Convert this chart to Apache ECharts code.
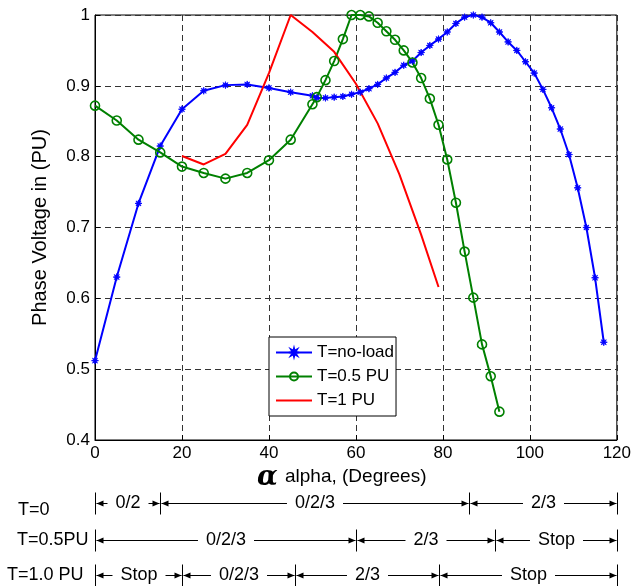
<!DOCTYPE html>
<html><head><meta charset="utf-8">
<script src="https://cdn.jsdelivr.net/npm/echarts@6/dist/echarts.min.js"></script>
<style>html,body{margin:0;padding:0;background:#fff}#c{width:634px;height:586px}</style>
</head><body><div id="c"></div>
<script>
// ---- data ----
const alphaNoLoad = [0,5,10,15,20,25,30,35,40,45,50,51,53,55,57,59,61,63,65,67,69,71,73,75,77,79,81,83,85,87,89,91,93,95,97,99,101,103,105,107,109,111,113,115,117];
const voltNoLoad  = [0.512,0.630,0.734,0.815,0.867,0.893,0.901,0.902,0.897,0.891,0.886,0.883,0.883,0.884,0.885,0.888,0.891,0.896,0.902,0.911,0.919,0.929,0.935,0.947,0.957,0.966,0.976,0.988,0.997,1.000,0.997,0.989,0.976,0.962,0.950,0.934,0.918,0.895,0.869,0.839,0.803,0.756,0.700,0.629,0.538];
const alphaHalf = [0,5,10,15,20,25,30,35,40,45,50,51,53,55,57,59,61,63,65,67,69,71,73,75,77,79,81,83,85,87,89,91,93];
const voltHalf  = [0.872,0.851,0.824,0.806,0.786,0.777,0.769,0.777,0.795,0.824,0.874,0.884,0.908,0.935,0.966,1.000,1.000,0.998,0.989,0.977,0.965,0.950,0.933,0.911,0.882,0.845,0.796,0.735,0.666,0.601,0.535,0.490,0.440];
const alphaFull = [20,25,30,35,40,45,50,55,60,65,70,75,79];
const voltFull  = [0.801,0.789,0.804,0.845,0.918,1.000,0.976,0.948,0.903,0.847,0.775,0.690,0.616];
const seriesNames = ['T=no-load','T=0.5 PU','T=1 PU'];
const xTicks = [0,120,20];
const yTicks = [0.4,1,0.1];
// operating-mode bands below the axis
const rowLabels = ['T=0','T=0.5PU','T=1.0 PU'];
const rowBounds = [[0,15,86,120],[0,60,92,120],[0,20,46,79,120]];
const rowModes  = [['0/2','0/2/3','2/3'],['0/2/3','2/3','Stop'],['Stop','0/2/3','2/3','Stop']];

const FONT = '"Liberation Sans", Arial, Helvetica, sans-serif';
const starPath = 'path://M0,-10 L1.6,-3.8 L7.07,-7.07 L3.8,-1.6 L10,0 L3.8,1.6 L7.07,7.07 L1.6,3.8 L0,10 L-1.6,3.8 L-7.07,7.07 L-3.8,1.6 L-10,0 L-3.8,-1.6 L-7.07,-7.07 L-1.6,-3.8 Z';
const lineIcon = 'path://M0,0 L36,0 L36,2 L0,2 Z';
const zip = (xs, ys) => xs.map((x, i) => [x, ys[i]]);

const chart = echarts.init(document.getElementById('c'));
chart.setOption({
  animation: false,
  backgroundColor: '#fff',
  grid: {left: 95, right: 16, top: 15, bottom: 146, show: true, borderColor: '#000', borderWidth: 1, backgroundColor: 'transparent'},
  legend: {
    orient: 'vertical', left: 269, top: 337,
    itemWidth: 36, itemHeight: 10, itemGap: 7,
    padding: [7, 2, 7, 6],
    borderColor: '#000', borderWidth: 1, borderRadius: 0, backgroundColor: '#fff',
    textStyle: {fontSize: 17, fontFamily: FONT, color: '#000'},
    data: [seriesNames[0], seriesNames[1], {name: seriesNames[2], icon: lineIcon}]
  },
  xAxis: {
    type: 'value', min: xTicks[0], max: xTicks[1], interval: xTicks[2],
    axisLine: {show: true, onZero: false, lineStyle: {color: '#000', width: 1}},
    axisTick: {show: true, inside: true, length: 5, lineStyle: {color: '#000'}},
    axisLabel: {color: '#000', fontSize: 17, fontFamily: FONT, margin: 5},
    splitLine: {show: true, lineStyle: {color: '#333', type: [6, 4], width: 1}}
  },
  yAxis: {
    type: 'value', min: yTicks[0], max: yTicks[1], interval: yTicks[2],
    name: 'Phase Voltage in (PU)', nameLocation: 'middle', nameGap: 45, nameRotate: 90,
    nameTextStyle: {fontSize: 20, fontFamily: FONT, color: '#000'},
    axisLine: {show: true, onZero: false, lineStyle: {color: '#000', width: 1}},
    axisTick: {show: true, inside: true, length: 5, lineStyle: {color: '#000'}},
    axisLabel: {color: '#000', fontSize: 17, fontFamily: FONT, margin: 5},
    splitLine: {show: true, lineStyle: {color: '#333', type: [6, 4], width: 1}}
  },
  series: [
    {name: seriesNames[0], type: 'line', data: zip(alphaNoLoad, voltNoLoad), clip: false,
     symbol: starPath, symbolSize: 7, showAllSymbol: true,
     itemStyle: {color: '#0000ff', borderColor: '#0000ff', borderWidth: 0.8},
     lineStyle: {color: '#0000ff', width: 2}},
    {name: seriesNames[1], type: 'line', data: zip(alphaHalf, voltHalf), clip: false,
     symbol: 'circle', symbolSize: 9, showAllSymbol: true,
     itemStyle: {color: 'rgba(255,255,255,0)', borderColor: '#008000', borderWidth: 1.6},
     lineStyle: {color: '#008000', width: 2}},
    {name: seriesNames[2], type: 'line', data: zip(alphaFull, voltFull), clip: false,
     symbol: 'none', showSymbol: false,
     itemStyle: {color: '#ff0000'},
     lineStyle: {color: '#ff0000', width: 2}}
  ]
});

function buildAnnotations() {
  const ctx = document.createElement('canvas').getContext('2d');
  const annFont = '18px ' + FONT;
  ctx.font = annFont;
  const px = v => chart.convertToPixel({xAxisIndex: 0}, v);
  const els = [];
  // x axis title
  els.push({type: 'text', x: 257, y: 478, style: {text: 'α', font: 'italic bold 27px "DejaVu Serif", serif', fill: '#000', verticalAlign: 'middle'}});
  els.push({type: 'text', x: 285, y: 477, style: {text: 'alpha, (Degrees)', font: '19px ' + FONT, fill: '#000', verticalAlign: 'middle'}});
  const rowY = [503, 540, 575];
  const labelLeft = [18, 17, 7];
  const labelY = [510, 540, 575];
  const gap = 8, ah = 7, aw = 3;
  rowLabels.forEach((lab, r) => {
    els.push({type: 'text', x: labelLeft[r], y: labelY[r], style: {text: lab, font: annFont, fill: '#000', verticalAlign: 'middle'}});
    const y = rowY[r] + 0.5;
    const b = rowBounds[r];
    b.forEach(v => {
      const xx = Math.round(px(v)) + 0.5;
      els.push({type: 'line', shape: {x1: xx, y1: y - 11, x2: xx, y2: y + 11}, style: {stroke: '#000', lineWidth: 1}});
    });
    rowModes[r].forEach((m, i) => {
      const xa = Math.round(px(b[i])) + 0.5, xb = Math.round(px(b[i + 1])) + 0.5;
      const mid = (xa + xb) / 2;
      const w = ctx.measureText(m).width;
      els.push({type: 'text', x: mid, y: rowY[r], style: {text: m, font: annFont, fill: '#000', align: 'center', verticalAlign: 'middle'}});
      els.push({type: 'line', shape: {x1: xa + 1, y1: y, x2: mid - w / 2 - gap, y2: y}, style: {stroke: '#000', lineWidth: 1}});
      els.push({type: 'line', shape: {x1: mid + w / 2 + gap, y1: y, x2: xb - 1, y2: y}, style: {stroke: '#000', lineWidth: 1}});
      els.push({type: 'polygon', shape: {points: [[xa + 1, y], [xa + 1 + ah, y - aw], [xa + 1 + ah, y + aw]]}, style: {fill: '#000'}});
      els.push({type: 'polygon', shape: {points: [[xb - 1, y], [xb - 1 - ah, y - aw], [xb - 1 - ah, y + aw]]}, style: {fill: '#000'}});
    });
  });
  chart.setOption({graphic: els});
}
buildAnnotations();
</script>
</body></html>
